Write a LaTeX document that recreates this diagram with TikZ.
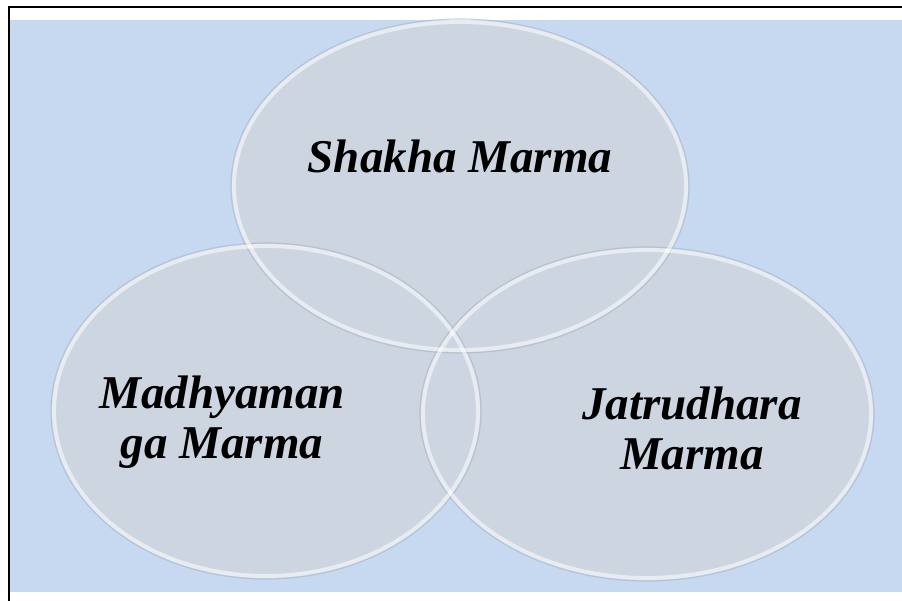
\documentclass[tikz,border=0pt]{standalone}
\usepackage{fontspec}
\setmainfont{Liberation Serif}
\definecolor{bgblue}{HTML}{C6D9F0}
\definecolor{ellfill}{HTML}{CDD5E0}
\definecolor{rimshade}{HTML}{A9B6C8}
\tikzset{
  ellbody/.style={fill=ellfill},
  ellshade/.style={draw=rimshade, line width=1.2pt, draw opacity=0.6},
  ellrim/.style={draw=white, line width=4pt, draw opacity=0.55},
  label/.style={font=\fontsize{47}{50}\selectfont\bfseries\itshape, align=center, text=black, inner sep=0pt},
}
\begin{document}
\begin{tikzpicture}[x=1pt,y=-1pt]
\useasboundingbox (0,0) rectangle (902,601);
\fill[bgblue] (10,20) rectangle (902,592);
\draw[line width=2pt] (8,7) -- (902,7);
\draw[line width=1.7pt] (9,6) -- (9,601);
% ellipse bodies
\fill[ellbody] (460,186) ellipse [x radius=228, y radius=166];
\fill[ellbody] (266,411) ellipse [x radius=214, y radius=167];
\fill[ellbody] (647,414) ellipse [x radius=226, y radius=166];
% shading and rims
\draw[ellshade] (460,186) ellipse [x radius=229, y radius=167];
\draw[ellshade] (266,411) ellipse [x radius=215, y radius=168];
\draw[ellshade] (647,414) ellipse [x radius=227, y radius=167];
\draw[ellrim] (460,186) ellipse [x radius=226, y radius=164];
\draw[ellrim] (266,411) ellipse [x radius=212, y radius=165];
\draw[ellrim] (647,414) ellipse [x radius=224, y radius=164];
% labels
\node[label] (shakha) at (460,156) {Shakha Marma};
\node[label] (madhya) at (222,422) {Madhyaman\\ga Marma};
\node[label] (jatru) at (692,428) {Jatrudhara\\Marma};
\end{tikzpicture}
\end{document}
